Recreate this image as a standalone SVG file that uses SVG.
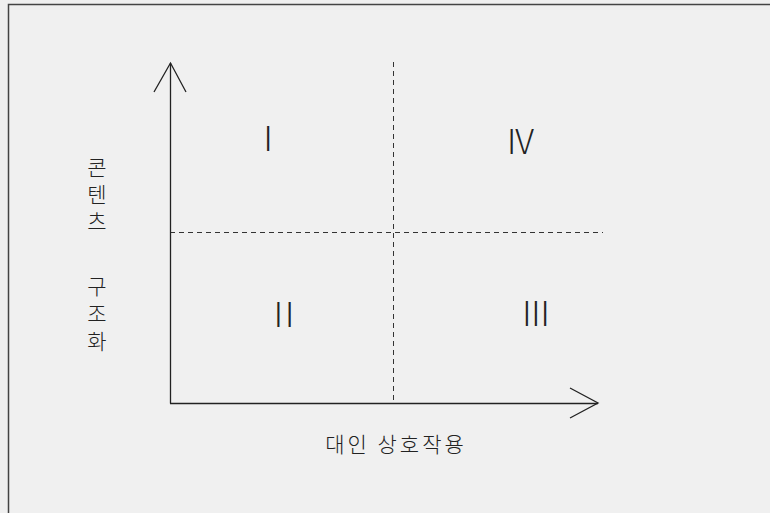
<svg xmlns="http://www.w3.org/2000/svg" width="770" height="513" viewBox="0 0 770 513">
<style>
.ax{stroke:#222;stroke-width:1.3;fill:none}
.ar{stroke:#222;stroke-width:1.3;fill:none;stroke-linejoin:miter}
.dash{stroke:#333;stroke-width:1;stroke-dasharray:5,4;fill:none}
.num{font-family:"Noto Sans CJK KR","DejaVu Sans",sans-serif;font-weight:300;font-size:34px;fill:#222;text-anchor:middle}
.kr{font-family:"Noto Sans CJK KR",sans-serif;font-weight:300;font-size:21px;fill:#222;text-anchor:middle}
</style>
<rect x="0" y="0" width="770" height="513" fill="#f0f0f0"/>
<rect x="8.5" y="4.5" width="800" height="560" fill="none" stroke="#444" stroke-width="1.5"/>
<g id="connectors">
<line class="dash" x1="393.5" y1="62" x2="393.5" y2="403"/>
<line class="dash" x1="170" y1="232.5" x2="603" y2="232.5"/>
<line class="ax" x1="170.5" y1="63" x2="170.5" y2="403.5"/>
<polyline class="ar" points="154,92 170.5,63 186,92"/>
<line class="ax" x1="170" y1="403.5" x2="598" y2="403.5"/>
<polyline class="ar" points="570,388 598,403 570,418"/>
</g>
<g id="q1"><text class="num" x="268" y="151">I</text></g>
<g id="q4"><text class="num" x="520" y="154" letter-spacing="-1">IV</text></g>
<g id="q2"><text class="num" x="285" y="327" letter-spacing="2">II</text></g>
<g id="q3"><text class="num" x="536" y="326" letter-spacing="0">III</text></g>
<g id="ylabel">
<text class="kr" x="97" y="175">콘</text>
<text class="kr" x="97" y="202">텐</text>
<text class="kr" x="97" y="229">츠</text>
<text class="kr" x="97" y="294">구</text>
<text class="kr" x="97" y="321">조</text>
<text class="kr" x="97" y="349">화</text>
</g>
<g id="xlabel"><text class="kr" x="396" y="452" font-size="22" letter-spacing="3">대인 상호작용</text></g>
</svg>
